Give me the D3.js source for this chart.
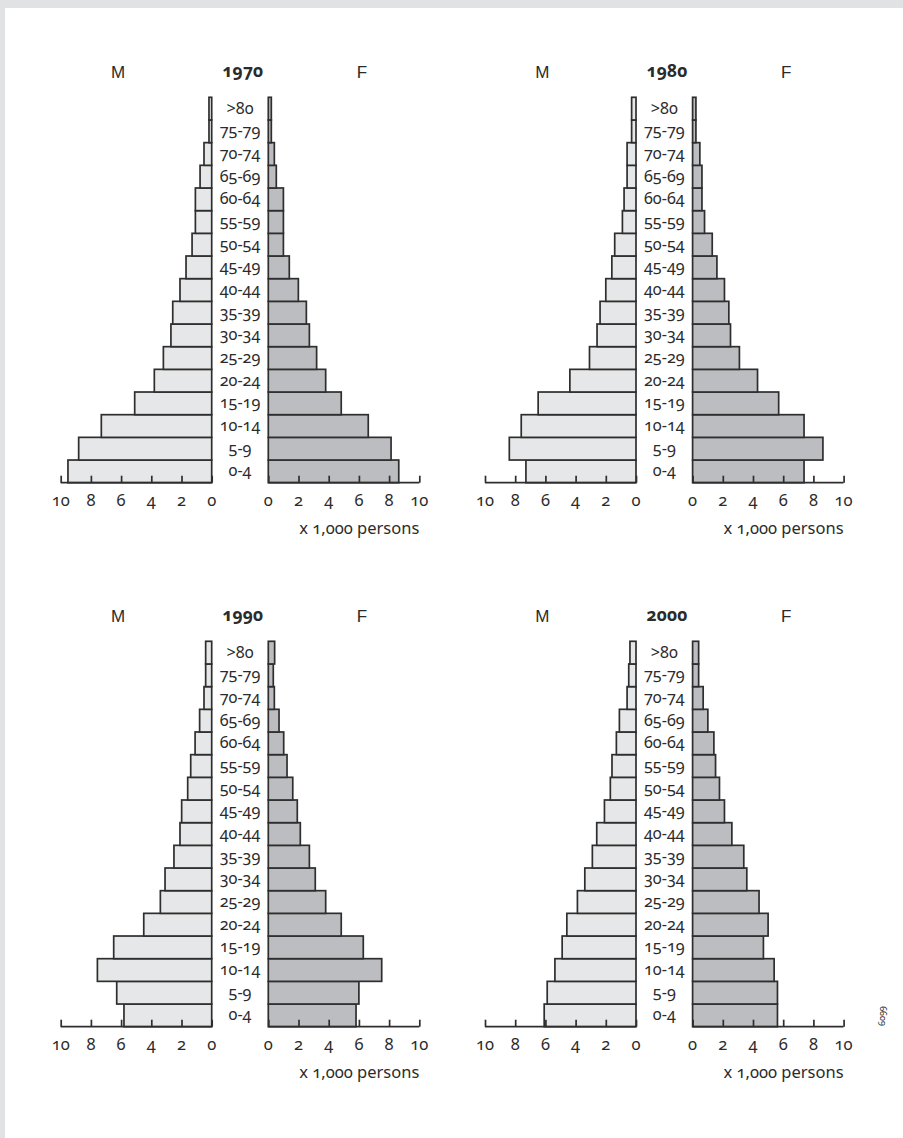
<!DOCTYPE html>
<html>
<head>
<meta charset="utf-8">
<script src="https://cdn.jsdelivr.net/npm/d3@7/dist/d3.min.js"></script>
<style>
  html, body { margin: 0; padding: 0; background: #fff; }
  svg { display: block; }
  .num { font-family: "Noto Sans", "Open Sans", sans-serif; font-feature-settings: "onum" 1; fill: #2b2b2b; }
  .sex { font-family: "Liberation Sans", Arial, sans-serif; fill: #2b2b2b; }
</style>
</head>
<body>
<svg id="chart" width="903" height="1138"></svg>
<script>
// Age groups, youngest first
const ages = ["0-4", "5-9", "10-14", "15-19", "20-24", "25-29", "30-34", "35-39",
              "40-44", "45-49", "50-54", "55-59", "60-64", "65-69", "70-74", "75-79", ">80"];

// Population per age group, x 1,000 persons
const years = ["1970", "1980", "1990", "2000"];
const male1970   = [9.52, 8.81, 7.31, 5.10, 3.80, 3.20, 2.70, 2.58, 2.10, 1.70, 1.30, 1.08, 1.08, 0.77, 0.51, 0.18, 0.18];
const female1970 = [8.64, 8.13, 6.62, 4.83, 3.80, 3.20, 2.72, 2.52, 1.99, 1.39, 1.00, 1.00, 1.00, 0.53, 0.40, 0.20, 0.20];
const male1980   = [7.29, 8.39, 7.60, 6.48, 4.38, 3.08, 2.58, 2.38, 2.00, 1.60, 1.41, 0.90, 0.79, 0.59, 0.59, 0.29, 0.29];
const female1980 = [7.38, 8.63, 7.38, 5.70, 4.30, 3.10, 2.51, 2.40, 2.11, 1.61, 1.30, 0.79, 0.62, 0.62, 0.48, 0.22, 0.22];
const male1990   = [5.81, 6.29, 7.57, 6.49, 4.50, 3.40, 3.09, 2.50, 2.10, 1.99, 1.59, 1.39, 1.10, 0.80, 0.51, 0.40, 0.40];
const female1990 = [5.81, 6.00, 7.51, 6.29, 4.83, 3.80, 3.11, 2.72, 2.12, 1.92, 1.62, 1.24, 1.02, 0.71, 0.40, 0.33, 0.42];
const male2000   = [6.08, 5.88, 5.37, 4.89, 4.58, 3.88, 3.39, 2.89, 2.60, 2.09, 1.70, 1.59, 1.30, 1.10, 0.59, 0.48, 0.40];
const female2000 = [5.62, 5.62, 5.40, 4.69, 5.00, 4.40, 3.59, 3.39, 2.60, 2.11, 1.78, 1.52, 1.41, 1.01, 0.70, 0.40, 0.40];

const maleSeries = [male1970, male1980, male1990, male2000];
const femaleSeries = [female1970, female1980, female1990, female2000];

// Axis ticks and labels
const tickValues = [0, 2, 4, 6, 8, 10];
const unitLabel = "x 1,000 persons";
const maleLabel = "M";
const femaleLabel = "F";
const figureId = "6609";

const svg = d3.select("#chart");

// light grey frame along the top and left edges
svg.append("rect").attr("x", 0).attr("y", 0).attr("width", 903).attr("height", 1138).attr("fill", "#fff");
svg.append("rect").attr("x", 0).attr("y", 0).attr("width", 903).attr("height", 8).attr("fill", "#e1e2e4");
svg.append("rect").attr("x", 0).attr("y", 0).attr("width", 5).attr("height", 1138).attr("fill", "#e1e2e4");

const ink = "#2e2e2e";
const maleFill = "#e6e7e8";
const femaleFill = "#bcbdc0";

// panel geometry (grid of 2 x 2)
const panelW = 151;          // width of one half axis (0..10)
const gap = 56.6;            // space for the age labels between halves
const panelTop = 97.3, panelBottom = 482.7;
const colOffset = 424.3, rowOffset = 544;
const baseZeroL = 211.7;

years.forEach((year, i) => {
  const dx = (i % 2) * colOffset;
  const dy = Math.floor(i / 2) * rowOffset;
  const zeroL = baseZeroL + dx;
  const zeroR = zeroL + gap;
  const top = panelTop + dy, bottom = panelBottom + dy;
  const mid = (zeroL + zeroR) / 2;

  const xM = d3.scaleLinear().domain([0, 10]).range([zeroL, zeroL - panelW]);
  const xF = d3.scaleLinear().domain([0, 10]).range([zeroR, zeroR + panelW]);
  const y = d3.scaleBand().domain(ages.slice().reverse()).range([top, bottom]).padding(0);

  const g = svg.append("g");

  const male = maleSeries[i].map((v, k) => ({ age: ages[k], v }));
  const female = femaleSeries[i].map((v, k) => ({ age: ages[k], v }));

  g.selectAll("rect.m").data(male).join("rect")
    .attr("class", "m")
    .attr("x", d => xM(d.v))
    .attr("y", d => y(d.age))
    .attr("width", d => xM(0) - xM(d.v))
    .attr("height", y.bandwidth())
    .attr("fill", maleFill).attr("stroke", ink).attr("stroke-width", 1.7);

  g.selectAll("rect.f").data(female).join("rect")
    .attr("class", "f")
    .attr("x", xF(0))
    .attr("y", d => y(d.age))
    .attr("width", d => xF(d.v) - xF(0))
    .attr("height", y.bandwidth())
    .attr("fill", femaleFill).attr("stroke", ink).attr("stroke-width", 1.7);

  // age labels
  g.selectAll("text.age").data(ages).join("text")
    .attr("class", "num age")
    .attr("x", mid)
    .attr("y", d => y(d) + y.bandwidth() / 2 + 5)
    .attr("text-anchor", "middle")
    .attr("font-size", 16.2)
    .text(d => d);

  // axes: ticks pointing up, labels underneath
  const axisM = d3.axisTop(xM).tickValues(tickValues).tickSize(7).tickFormat("");
  const axisF = d3.axisTop(xF).tickValues(tickValues).tickSize(7).tickFormat("");
  [axisM, axisF].forEach(ax => {
    const a = g.append("g").attr("transform", `translate(0,${bottom})`).call(ax);
    a.select(".domain").remove();
    a.selectAll(".tick line").attr("stroke", ink).attr("stroke-width", 1.7);
  });
  g.append("line").attr("x1", xM(10)).attr("x2", xM(0)).attr("y1", bottom).attr("y2", bottom)
    .attr("stroke", ink).attr("stroke-width", 1.7);
  g.append("line").attr("x1", xF(0)).attr("x2", xF(10)).attr("y1", bottom).attr("y2", bottom)
    .attr("stroke", ink).attr("stroke-width", 1.7);

  [xM, xF].forEach(sc => {
    g.selectAll(null).data(tickValues).join("text")
      .attr("class", "num")
      .attr("x", d => sc(d))
      .attr("y", bottom + 23)
      .attr("text-anchor", "middle")
      .attr("font-size", 16.5)
      .text(d => d);
  });

  g.append("text").attr("class", "num")
    .attr("x", xF(10)).attr("y", bottom + 51)
    .attr("text-anchor", "end").attr("font-size", 16.5)
    .text(unitLabel);

  // headings
  g.append("text").attr("class", "sex")
    .attr("x", xM(6.2)).attr("y", top - 19)
    .attr("text-anchor", "middle").attr("font-size", 17)
    .text(maleLabel);
  g.append("text").attr("class", "sex")
    .attr("x", xF(6.2)).attr("y", top - 19)
    .attr("text-anchor", "middle").attr("font-size", 17)
    .text(femaleLabel);
  g.append("text").attr("class", "num")
    .attr("x", mid + 2.7).attr("y", top - 20)
    .attr("text-anchor", "middle").attr("font-size", 17.5).attr("font-weight", "bold")
    .text(year);
});

// figure number along the right edge
svg.append("text").attr("class", "num")
  .attr("transform", "translate(880,1016) rotate(90)")
  .attr("text-anchor", "middle").attr("font-size", 9)
  .text(figureId);
</script>
</body>
</html>
